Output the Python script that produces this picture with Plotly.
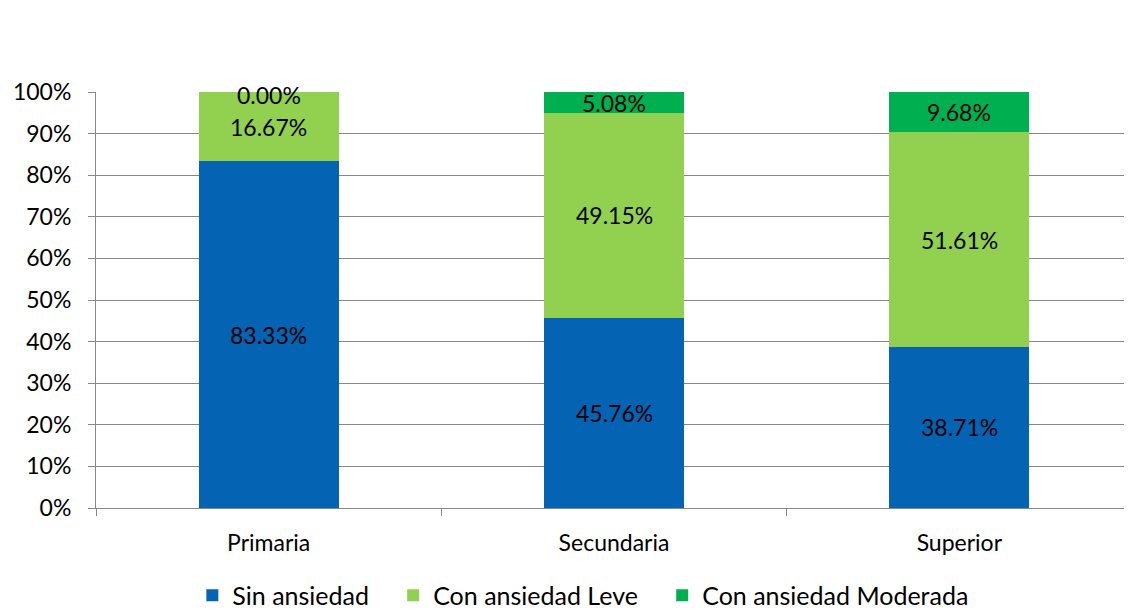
import plotly.graph_objects as go

categories = ["Primaria", "Secundaria", "Superior"]
sin_ansiedad = [83.33, 45.76, 38.71]
ansiedad_leve = [16.67, 49.15, 51.61]
ansiedad_moderada = [0.00, 5.08, 9.68]
series_names = ["Sin ansiedad", "Con ansiedad Leve", "Con ansiedad Moderada"]
y_ticks = [0, 10, 20, 30, 40, 50, 60, 70, 80, 90, 100]

colors = ["#0563b4", "#92d050", "#00b050"]
FONT = "Lato"
FS = 23
PAD = "\u00a0" * 3

fig = go.Figure()
series = [sin_ansiedad, ansiedad_leve, ansiedad_moderada]
for name, vals, col in zip(series_names, series, colors):
    fig.add_trace(go.Bar(
        x=categories, y=vals, name=name + PAD,
        marker=dict(color=col, line=dict(width=0)),
        hoverinfo="skip",
    ))

# data labels centered on each segment
base = [0.0] * len(categories)
for vals in series:
    for i, (c, v) in enumerate(zip(categories, vals)):
        fig.add_annotation(
            x=c, y=base[i] + v / 2, text=f"{v:.2f}%", showarrow=False,
            font=dict(family=FONT, size=FS, color="#000000"),
            yshift=-3 if v == 0 else 0,
        )
        base[i] += v

fig.update_layout(
    width=1124, height=602,
    barmode="stack", bargap=0.595,
    plot_bgcolor="white", paper_bgcolor="white",
    margin=dict(l=88, r=0, t=84, b=102),
    font=dict(family=FONT, size=FS, color="#000000"),
    showlegend=True,
    legend=dict(orientation="h", xref="container", yref="container",
                x=0.164, xanchor="left", y=0.0625, yanchor="top",
                font=dict(family=FONT, size=25), itemwidth=30,
                traceorder="normal", itemsizing="constant"),
    xaxis=dict(showline=True, linecolor="#888888", linewidth=1,
               ticks="outside", tickson="boundaries", ticklen=7, tickcolor="#888888",
               tickfont=dict(family=FONT, size=FS), showgrid=False,
               automargin=False, ticklabelstandoff=14),
    yaxis=dict(range=[0, 100], tickvals=y_ticks, ticktext=[f"{t}%" for t in y_ticks],
               showline=True, linecolor="#888888", linewidth=1,
               ticks="outside", ticklen=7, tickcolor="#888888",
               showgrid=True, gridcolor="#888888", gridwidth=1,
               zeroline=False, tickfont=dict(family=FONT, size=FS),
               automargin=False, ticklabelstandoff=12),
)

fig.write_html("out.html")
